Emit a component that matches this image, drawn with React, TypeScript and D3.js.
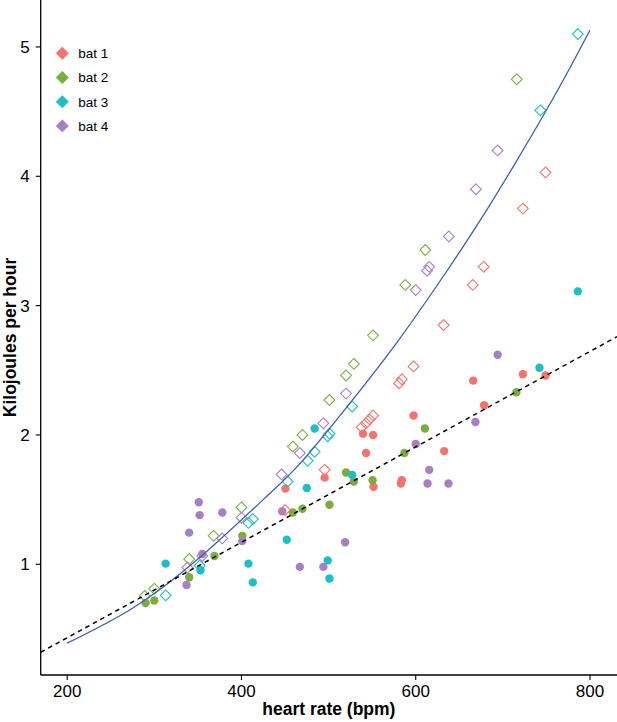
import * as d3 from 'd3';
import React from 'react';

const W = 617;
const H = 722;

const batNames = ['bat 1', 'bat 2', 'bat 3', 'bat 4'];
const batColors = ['#F2746C', '#7AAE3C', '#1CBFC4', '#A97FC4'];

// [heart rate (bpm), kJ per hour] - open diamonds
const bat1Open = [
  [749, 4.03], [723, 3.75], [678, 3.3], [665.5, 3.16], [632, 2.85], [597.5, 2.53],
  [584, 2.43], [581, 2.4], [551, 2.15], [547, 2.12], [543, 2.09], [538, 2.06],
  [495.5, 1.73], [450, 1.42],
];
const bat2Open = [
  [716, 4.75], [611, 3.43], [588, 3.16], [551, 2.77], [529, 2.55], [520, 2.46],
  [501, 2.27], [470, 2.0], [459, 1.91], [400, 1.44], [368, 1.22], [340, 1.04],
  [300, 0.81], [289, 0.755],
];
const bat3Open = [
  [786, 5.1], [743, 4.51], [527, 2.22], [501, 2.01], [499, 1.99], [484, 1.87],
  [476, 1.8], [453, 1.64], [413, 1.35], [408, 1.32], [352, 0.99], [313, 0.76],
];
const bat4Open = [
  [694, 4.2], [669, 3.9], [638, 3.535], [615.5, 3.3], [613, 3.27], [600, 3.12],
  [520, 2.32], [494, 2.09], [467, 1.86], [446, 1.695], [400, 1.36], [378, 1.2],
  [355, 1.064], [338, 0.975],
];

// filled circles
const bat1Filled = [
  [749, 2.46], [723, 2.47], [666, 2.42], [678.5, 2.23], [597.5, 2.15], [632.7, 1.875],
  [584, 1.65], [583, 1.625], [539.5, 2.01], [551, 2.0], [543, 1.86], [495.5, 1.67],
  [450.4, 1.585], [551.6, 1.6],
];
const bat2Filled = [
  [715.5, 2.33], [610.5, 2.05], [587, 1.86], [520, 1.71], [529, 1.64], [550.5, 1.65],
  [501, 1.46], [470, 1.43], [459, 1.4], [401, 1.22], [369, 1.064], [340, 0.9],
  [300, 0.72], [290, 0.7],
];
const bat3Filled = [
  [786, 3.11], [742, 2.52], [527, 1.69], [484, 2.05], [475, 1.59], [452, 1.19],
  [499, 1.03], [501, 0.89], [408, 1.005], [413, 0.86], [313, 1.005], [353, 0.954],
];
const bat4Filled = [
  [694, 2.62], [668.5, 2.1], [600, 1.93], [615.5, 1.73], [613.6, 1.625], [637.6, 1.625],
  [519, 1.17], [494, 0.98], [467, 0.98], [446.7, 1.41], [351, 1.48], [352, 1.38],
  [378, 1.4], [340, 1.245], [401, 1.18], [355, 1.08], [337, 0.84],
];

const openSets = [bat1Open, bat2Open, bat3Open, bat4Open];
const filledSets = [bat1Filled, bat2Filled, bat3Filled, bat4Filled];

// fitted curves
const solidFit = [
  [200, 0.39], [275, 0.66], [350, 1.04], [425, 1.5], [470, 1.8], [525, 2.25],
  [580, 2.73], [635, 3.26], [675, 3.67], [715, 4.11], [760, 4.63], [800, 5.13],
];
const dashedFit = [[169.6, 0.32], [831, 2.76]];

const xTicks = [200, 400, 600, 800];
const yTicks = [1, 2, 3, 4, 5];

const font = '"Liberation Sans", Arial, Helvetica, sans-serif';

export default function App() {
  const left = 40.7;
  const right = W;
  const top = 0;
  const bottom = 675;

  const x = d3.scaleLinear().domain([169.6, 831]).range([left, right]);
  const y = d3.scaleLinear().domain([0.144, 5.363]).range([bottom, top]);

  const line = d3
    .line<number[]>()
    .x(d => x(d[0]))
    .y(d => y(d[1]))
    .curve(d3.curveNatural);

  const diamond = (cx: number, cy: number, r: number) =>
    `M${cx},${cy - r}L${cx + r},${cy}L${cx},${cy + r}L${cx - r},${cy}Z`;

  return (
    <svg
      width={W}
      height={H}
      style={{ position: 'absolute', left: 0, top: 0, background: '#fff' }}
      fontFamily={font}
    >
      <defs>
        <clipPath id="plot">
          <rect x={left} y={top} width={right - left} height={bottom - top} />
        </clipPath>
      </defs>

      {/* filled circles */}
      {filledSets.map((set, i) =>
        set.map((d, j) => (
          <circle key={`f${i}-${j}`} cx={x(d[0])} cy={y(d[1])} r={4.2} fill={batColors[i]} />
        )),
      )}

      {/* open diamonds */}
      {openSets.map((set, i) =>
        set.map((d, j) => (
          <path
            key={`o${i}-${j}`}
            d={diamond(x(d[0]), y(d[1]), 5.4)}
            fill="none"
            stroke={batColors[i]}
            strokeWidth={1.1}
          />
        )),
      )}

      <g clipPath="url(#plot)">
        <path d={line(solidFit) || ''} fill="none" stroke="#3E5EB2" strokeWidth={1.3} />
        <path
          d={line(dashedFit) || ''}
          fill="none"
          stroke="#000"
          strokeWidth={1.5}
          strokeDasharray="4.5,4"
        />
      </g>

      {/* axes */}
      <line x1={left} x2={left} y1={top} y2={bottom} stroke="#000" strokeWidth={1.3} />
      <line x1={left} x2={right} y1={bottom} y2={bottom} stroke="#000" strokeWidth={1.3} />

      {yTicks.map(t => (
        <g key={`y${t}`}>
          <line x1={left - 5} x2={left} y1={y(t)} y2={y(t)} stroke="#000" strokeWidth={1.1} />
          <text x={left - 11} y={y(t)} dy="0.36em" textAnchor="end" fontSize={17} fill="#000">
            {t}
          </text>
        </g>
      ))}
      {xTicks.map(t => (
        <g key={`x${t}`}>
          <line x1={x(t)} x2={x(t)} y1={bottom} y2={bottom + 5} stroke="#000" strokeWidth={1.1} />
          <text x={x(t)} y={697} textAnchor="middle" fontSize={17} fill="#000">
            {t}
          </text>
        </g>
      ))}

      <text x={(left + right) / 2} y={714.5} textAnchor="middle" fontSize={17.5} fontWeight="bold">
        heart rate (bpm)
      </text>
      <text
        transform={`translate(16,${(top + bottom) / 2}) rotate(-90)`}
        textAnchor="middle"
        fontSize={17.5}
        fontWeight="bold"
      >
        Kilojoules per hour
      </text>

      {/* legend */}
      {batNames.map((name, i) => (
        <g key={name} transform={`translate(62.3,${53.3 + i * 24.2})`}>
          <path d={diamond(0, 0, 6.2)} fill={batColors[i]} stroke={batColors[i]} strokeOpacity={0.6} />
          <text x={16} y={0} dy="0.36em" fontSize={13.5} fill="#000">
            {name}
          </text>
        </g>
      ))}
    </svg>
  );
}
